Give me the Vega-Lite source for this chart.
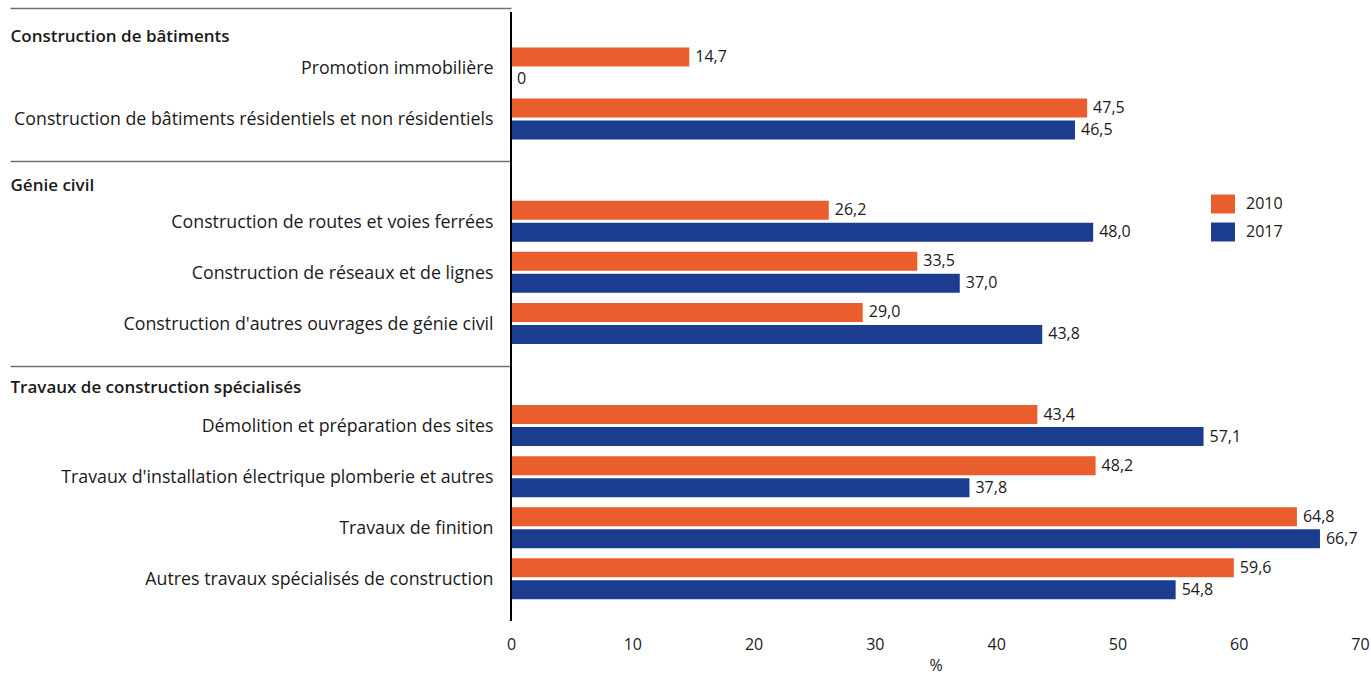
{
  "$schema": "https://vega.github.io/schema/vega-lite/v6.json",
  "width": 849,
  "height": 609,
  "autosize": {"type": "none"},
  "padding": {"left": 511, "top": 12, "right": 11, "bottom": 56},
  "background": "white",
  "config": {
    "view": {"stroke": null},
    "font": "Open Sans",
    "locale": {"number": {"decimal": ",", "thousands": " ", "grouping": [3], "currency": ["", " €"]}}
  },
  "data": {
    "values": [
      {"secteur": "Promotion immobilière", "annee": "2010", "valeur": 14.7},
      {"secteur": "Promotion immobilière", "annee": "2017", "valeur": 0},
      {"secteur": "Construction de bâtiments résidentiels et non résidentiels", "annee": "2010", "valeur": 47.5},
      {"secteur": "Construction de bâtiments résidentiels et non résidentiels", "annee": "2017", "valeur": 46.5},
      {"secteur": "Construction de routes et voies ferrées", "annee": "2010", "valeur": 26.2},
      {"secteur": "Construction de routes et voies ferrées", "annee": "2017", "valeur": 48.0},
      {"secteur": "Construction de réseaux et de lignes", "annee": "2010", "valeur": 33.5},
      {"secteur": "Construction de réseaux et de lignes", "annee": "2017", "valeur": 37.0},
      {"secteur": "Construction d'autres ouvrages de génie civil", "annee": "2010", "valeur": 29.0},
      {"secteur": "Construction d'autres ouvrages de génie civil", "annee": "2017", "valeur": 43.8},
      {"secteur": "Démolition et préparation des sites", "annee": "2010", "valeur": 43.4},
      {"secteur": "Démolition et préparation des sites", "annee": "2017", "valeur": 57.1},
      {"secteur": "Travaux d'installation électrique plomberie et autres", "annee": "2010", "valeur": 48.2},
      {"secteur": "Travaux d'installation électrique plomberie et autres", "annee": "2017", "valeur": 37.8},
      {"secteur": "Travaux de finition", "annee": "2010", "valeur": 64.8},
      {"secteur": "Travaux de finition", "annee": "2017", "valeur": 66.7},
      {"secteur": "Autres travaux spécialisés de construction", "annee": "2010", "valeur": 59.6},
      {"secteur": "Autres travaux spécialisés de construction", "annee": "2017", "valeur": 54.8}
    ]
  },
  "layer": [
    {
      "mark": {"type": "bar"},
      "encoding": {
        "y": {
          "field": "secteur",
          "type": "nominal",
          "title": null,
          "scale": {
            "domain": [
              "Construction de bâtiments",
              "Promotion immobilière",
              "Construction de bâtiments résidentiels et non résidentiels",
              "Génie civil",
              "Construction de routes et voies ferrées",
              "Construction de réseaux et de lignes",
              "Construction d'autres ouvrages de génie civil",
              "Travaux de construction spécialisés",
              "Démolition et préparation des sites",
              "Travaux d'installation électrique plomberie et autres",
              "Travaux de finition",
              "Autres travaux spécialisés de construction"
            ],
            "range": [-20.7, 592.4],
            "paddingInner": 0,
            "paddingOuter": 0
          },
          "axis": {
            "domain": false,
            "grid": false,
            "ticks": true,
            "tickSize": {"condition": {"test": "indexof(['Construction de bâtiments','Génie civil','Travaux de construction spécialisés'], datum.value) >= 0", "value": 501}, "value": 0},
            "tickColor": "#707070",
            "tickWidth": 1.5,
            "tickOffset": -8.65,
            "labelAlign": {"condition": {"test": "indexof(['Construction de bâtiments','Génie civil','Travaux de construction spécialisés'], datum.value) >= 0", "value": "left"}, "value": "right"},
            "labelPadding": {"condition": {"test": "indexof(['Construction de bâtiments','Génie civil','Travaux de construction spécialisés'], datum.value) >= 0", "value": 0}, "value": 18},
            "labelFontWeight": {"condition": {"test": "indexof(['Construction de bâtiments','Génie civil','Travaux de construction spécialisés'], datum.value) >= 0", "value": 600}, "value": "normal"},
            "labelFontSize": {"condition": {"test": "indexof(['Construction de bâtiments','Génie civil','Travaux de construction spécialisés'], datum.value) >= 0", "value": 17}, "value": 17.8},
            "labelOffset": {"condition": [
              {"test": "datum.value === 'Construction de bâtiments'", "value": 28.6},
              {"test": "datum.value === 'Génie civil'", "value": 23.6},
              {"test": "datum.value === 'Travaux de construction spécialisés'", "value": 22.1}
            ], "value": 9.5},
            "labelColor": "#1a1a1a",
            "labelLimit": 600
          }
        },
        "yOffset": {
          "field": "annee",
          "type": "nominal",
          "scale": {"domain": ["2010", "2017"], "paddingInner": 0.136, "paddingOuter": 0.229}
        },
        "x": {
          "field": "valeur",
          "type": "quantitative",
          "title": "%",
          "scale": {"domain": [0, 70], "nice": false},
          "axis": {
            "domain": false,
            "ticks": false,
            "grid": false,
            "values": [0, 10, 20, 30, 40, 50, 60, 70],
            "labelFontSize": 16,
            "labelPadding": 15,
            "labelFlush": false,
            "labelColor": "#1a1a1a",
            "titleFontSize": 16,
            "titleFontWeight": "normal",
            "titleColor": "#1a1a1a",
            "titlePadding": 5
          }
        },
        "color": {
          "field": "annee",
          "type": "nominal",
          "scale": {"domain": ["2010", "2017"], "range": ["#E95E2C", "#1C3D8F"]},
          "legend": {
            "title": null,
            "orient": "none",
            "legendX": 700,
            "legendY": 180,
            "padding": 0,
            "symbolType": "M-1,-0.79H1V0.79H-1Z",
            "symbolSize": 576,
            "symbolStrokeWidth": 0,
            "labelFontSize": 16,
            "labelColor": "#1a1a1a",
            "labelOffset": 11,
            "rowPadding": 6
          }
        }
      }
    },
    {
      "mark": {"type": "text", "align": "left", "baseline": "middle", "dx": 6, "fontSize": 16, "color": "#1a1a1a"},
      "encoding": {
        "y": {"field": "secteur", "type": "nominal"},
        "yOffset": {"field": "annee", "type": "nominal"},
        "x": {"field": "valeur", "type": "quantitative"},
        "text": {"condition": {"test": "datum.valeur === 0", "value": "0"}, "field": "valeur", "type": "quantitative", "format": ".1f"}
      }
    },
    {
      "data": {"values": [{}]},
      "mark": {"type": "rule", "color": "#000000", "strokeWidth": 2},
      "encoding": {"x": {"datum": 0}}
    }
  ]
}
